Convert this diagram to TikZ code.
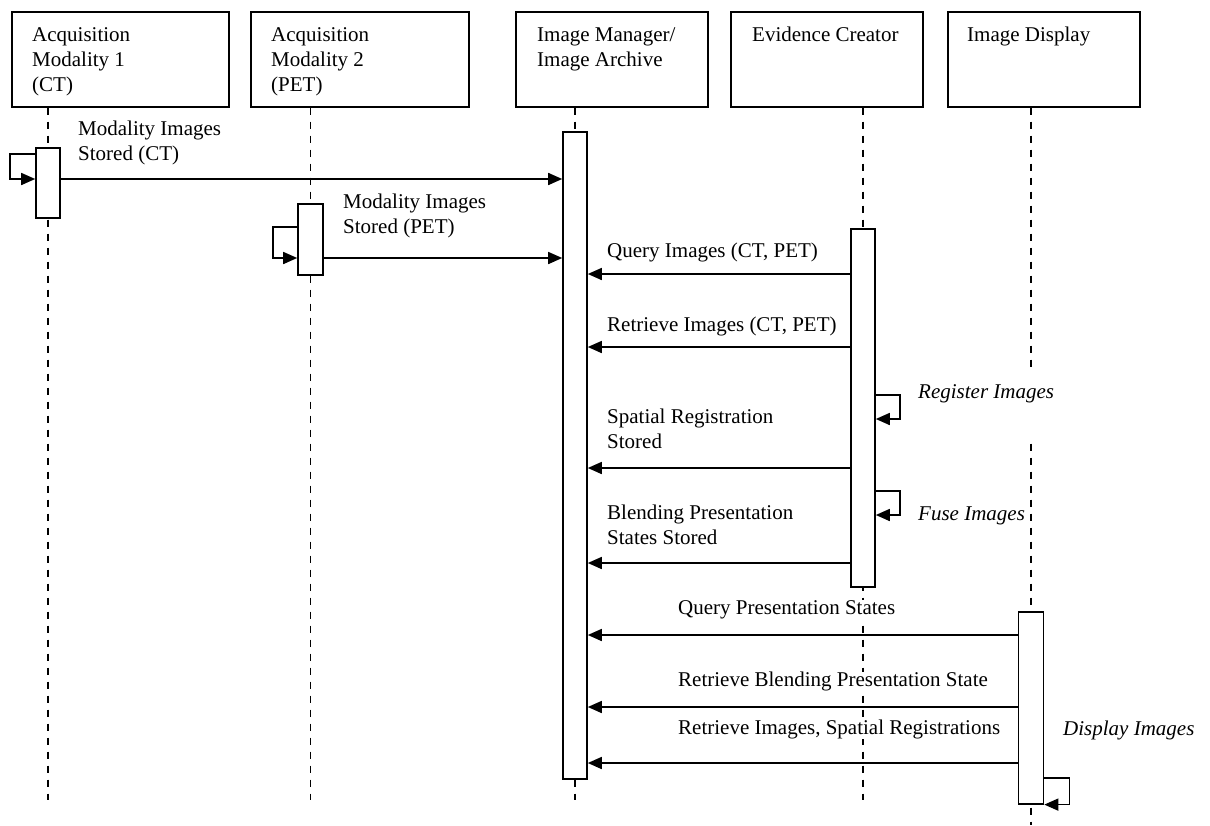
\documentclass[tikz,border=0pt]{standalone}
\usepackage{fontspec}
\setmainfont{Liberation Serif}
\usetikzlibrary{arrows.meta}
\tikzset{
  head/.style={draw, line width=1.6pt, anchor=north west, minimum height=95pt, inner sep=0pt},
  headtext/.style={anchor=north west, align=left, inner sep=0pt},
  bar/.style={draw, fill=white, line width=1.6pt, minimum width=24pt, anchor=north, inner sep=0pt},
  life/.style={line width=1.4pt, dash pattern=on 7pt off 7pt},
  msg/.style={line width=1.6pt, -{Triangle[length=14pt,width=12pt]}},
  lbl/.style={anchor=north west, align=left, inner sep=0pt, fill=white},
  note/.style={anchor=base west, inner sep=0pt, fill=white, font=\fontsize{21}{25}\selectfont\itshape}
}
\begin{document}
\begin{tikzpicture}[x=1pt,y=-1pt,font=\fontsize{21}{25}\selectfont]
  \useasboundingbox (0,0) rectangle (1210,825);
  % actors
  \node[head, minimum width=217pt] (box1) at (11,11) {};
  \node[head, minimum width=218pt] (box2) at (250,11) {};
  \node[head, minimum width=192pt] (box3) at (515,11) {};
  \node[head, minimum width=192pt] (box4) at (730,11) {};
  \node[head, minimum width=192pt] (box5) at (947,11) {};
  \node[headtext] (name1) at ([shift={(21,16)}]box1.north west) {Acquisition\\Modality 1\\(CT)};
  \node[headtext] (name2) at ([shift={(21,16)}]box2.north west) {Acquisition\\Modality 2\\(PET)};
  \node[headtext] (name3) at ([shift={(22,16)}]box3.north west) {Image Manager/\\Image Archive};
  \node[headtext] (name4) at ([shift={(22,16)}]box4.north west) {Evidence Creator};
  \node[headtext] (name5) at ([shift={(20,16)}]box5.north west) {Image Display};
  % activation bars
  \coordinate (bar1) at (48,0);
  \coordinate (bar2) at (310.5,0);
  \coordinate (bar3) at (575,0);
  \coordinate (bar4) at (863,0);
  \coordinate (bar5) at (1031,0);
  % lifelines
  \draw[life] (bar1 |- box1.south) -- (bar1 |- 0,800);
  \draw[life] (bar2 |- box2.south) -- (bar2 |- 0,800);
  \draw[life] (bar3 |- box3.south) -- (bar3 |- 0,800);
  \draw[life] (bar4 |- box4.south) -- (bar4 |- 0,800);
  \draw[life] (bar5 |- box5.south) -- (bar5 |- 0,825);
  \node[bar, minimum height=70pt] (act1) at (48,147) {};
  \node[bar, minimum height=71pt, minimum width=25pt] (act2) at (310.5,203) {};
  \node[bar, minimum height=647pt] (act3) at (575,131) {};
  \node[bar, minimum height=358pt] (act4) at (863,228) {};
  \node[bar, minimum height=192pt, minimum width=25pt] (act5) at (1031,611) {};
  % stores from the modalities
  \draw[msg] (act1.west |- 0,154) -- ++(-25,0) |- (act1.west |- 0,179);
  \draw[msg] (act1.east |- 0,179) -- (act3.west |- 0,179);
  \node[lbl] (m1) at (78,121) {Modality Images\\Stored (CT)};
  \draw[msg] (act2.west |- 0,227) -- ++(-24,0) |- (act2.west |- 0,258);
  \draw[msg] (act2.east |- 0,258) -- (act3.west |- 0,258);
  \node[lbl] (m2) at (343,194) {Modality Images\\Stored (PET)};
  % evidence creator
  \foreach \y in {274,347,468,563}
    \draw[msg] (act4.west |- 0,\y) -- (act3.east |- 0,\y);
  \node[lbl] (m3) at (607,243) {Query Images (CT, PET)};
  \node[lbl] (m4) at (607,317) {Retrieve Images (CT, PET)};
  \node[lbl] (m5) at (607,409) {Spatial Registration\\Stored};
  \node[lbl] (m6) at (607,505) {Blending Presentation\\States Stored};
  \draw[msg] (act4.east |- 0,395) -- ++(24,0) |- (act4.east |- 0,419);
  \draw[msg] (act4.east |- 0,491) -- ++(24,0) |- (act4.east |- 0,515);
  \node[note, text height=31pt, text depth=42pt] (n1) at (918,398) {Register Images};
  \node[note, text height=30pt, text depth=20pt] (n2) at (918,520) {Fuse Images};
  % image display
  \foreach \y in {635,707,763}
    \draw[msg] (act5.west |- 0,\y) -- (act3.east |- 0,\y);
  \node[lbl] (m7) at (678,600) {Query Presentation States};
  \node[lbl] (m8) at (678,672) {Retrieve Blending Presentation State};
  \node[lbl] (m9) at (678,720) {Retrieve Images, Spatial Registrations};
  \draw[msg] (act5.east |- 0,778) -- ++(25,0) |- (act5.south east);
  \node[note] (n3) at (1063,735) {Display Images};
\end{tikzpicture}
\end{document}
